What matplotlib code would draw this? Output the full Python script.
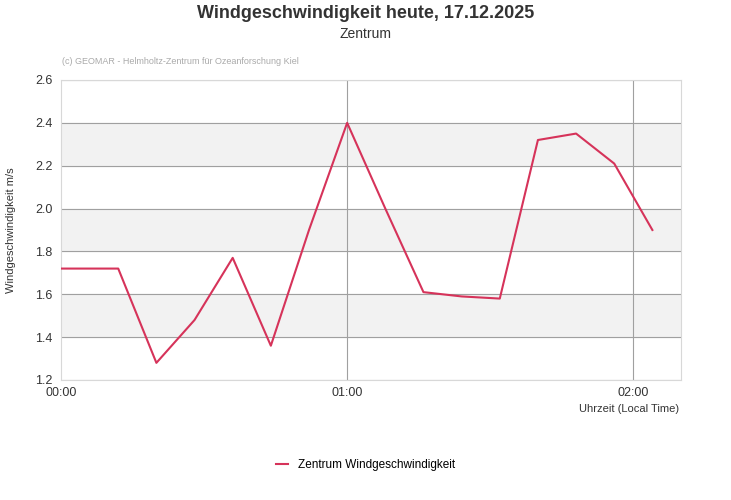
import matplotlib
matplotlib.use("Agg")
import matplotlib.pyplot as plt

minutes = [0, 12, 20, 28, 36, 44, 52, 60, 68, 76, 84, 92, 100, 108, 116, 124]
speeds = [1.72, 1.72, 1.28, 1.48, 1.77, 1.36, 1.90, 2.40, 2.00, 1.61, 1.59, 1.58, 2.32, 2.35, 2.21, 1.90]
xticks = [0, 60, 120]
xticklabels = ["00:00", "01:00", "02:00"]
yticks = [1.2, 1.4, 1.6, 1.8, 2.0, 2.2, 2.4, 2.6]

plt.rcParams['font.family'] = ['Liberation Sans', 'DejaVu Sans']
fig = plt.figure(figsize=(7.31, 5.0), dpi=100)
ax = fig.add_axes([61/731, 1-380/500, 620/731, 300/500])
col = '#d6335a'
for lo in [1.4, 1.8, 2.2]:
    ax.axhspan(lo, lo+0.2, color='#f2f2f2', zorder=0)
for y in yticks:
    ax.axhline(y, color='#a0a0a0', lw=0.8, zorder=1)
for x in xticks[1:]:
    ax.axvline(x, color='#a0a0a0', lw=0.8, zorder=1)
ax.plot(minutes, speeds, color=col, lw=1.5, zorder=3, label='Zentrum Windgeschwindigkeit')
ax.set_xlim(0, 130)
ax.set_ylim(1.2, 2.6)
ax.set_yticks(yticks)
ax.set_yticklabels([f"{y:.1f}" for y in yticks], fontsize=9, color='#333333')
ax.set_xticks(xticks)
ax.set_xticklabels(xticklabels, fontsize=9, color='#333333')
ax.tick_params(length=0, pad=6)
ax.tick_params(axis='x', pad=5)
for s in ['top', 'right', 'left', 'bottom']:
    ax.spines[s].set_color('#d8d8d8')
ax.set_ylabel('Windgeschwindigkeit m/s', fontsize=8, color='#333333', labelpad=14)
fig.text(679/731, 1-409/500, 'Uhrzeit (Local Time)', fontsize=8, color='#333333', ha='right', va='center')
fig.text(0.5, 1-13/500, 'Windgeschwindigkeit heute, 17.12.2025', fontsize=13, fontweight='bold', color='#333333', ha='center', va='center')
fig.text(0.5, 1-34/500, 'Zentrum', fontsize=10, color='#333333', ha='center', va='center')
fig.text(62/731, 1-61/500, '(c) GEOMAR - Helmholtz-Zentrum für Ozeanforschung Kiel', fontsize=6.5, color='#aaaaaa', ha='left', va='center')
fig.legend(loc='center', bbox_to_anchor=(0.5, 1-465/500), frameon=False, fontsize=8.5, handlelength=1.0)
fig.savefig('out.png', dpi=100)
